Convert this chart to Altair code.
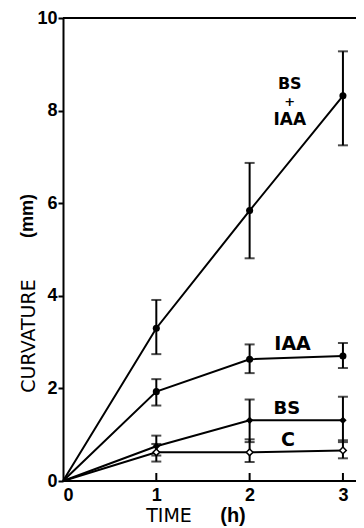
import altair as alt
import pandas as pd

times = [0, 1, 2, 3]
bs_iaa = [0, 3.3, 5.84, 8.32]
bs_iaa_lo = [None, 2.74, 4.81, 7.25]
bs_iaa_hi = [None, 3.91, 6.87, 9.28]
iaa = [0, 1.93, 2.63, 2.7]
iaa_lo = [None, 1.63, 2.33, 2.44]
iaa_hi = [None, 2.2, 2.95, 2.98]
bs = [0, 0.75, 1.31, 1.31]
bs_lo = [None, 0.55, 0.84, 0.84]
bs_hi = [None, 0.98, 1.76, 1.82]
c = [0, 0.62, 0.62, 0.66]
c_lo = [None, 0.42, 0.41, 0.49]
c_hi = [None, 0.8, 0.9, 0.88]
x_ticks = [1, 2, 3]
y_ticks = [0, 2, 4, 6, 8, 10]

rows = []
for name, v, lo, hi in [("BS+IAA", bs_iaa, bs_iaa_lo, bs_iaa_hi),
                        ("IAA", iaa, iaa_lo, iaa_hi),
                        ("BS", bs, bs_lo, bs_hi),
                        ("C", c, c_lo, c_hi)]:
    for t, val, l, h in zip(times, v, lo, hi):
        rows.append({"series": name, "time": t, "value": val, "lo": l, "hi": h})
df = pd.DataFrame(rows)
err = df.dropna()
pts = df[df.time > 0]

W, H = 293, 463
xs = alt.Scale(domain=[0, 3.14], nice=False)
ys = alt.Scale(domain=[0, 10], nice=False)

LABF = "Liberation Sans"
SERF = "DejaVu Sans"

x_enc = alt.X("time:Q", scale=xs, axis=alt.Axis(
    values=[0, 1, 2, 3], format="d", grid=False, domain=False, ticks=False,
    labelFont=LABF, labelFontWeight="bold", labelFontSize=18, labelColor="black",
    labelPadding=5, title=None))
y_enc = alt.Y("value:Q", scale=ys, axis=alt.Axis(
    values=y_ticks, grid=False, domainWidth=2, domainColor="black",
    tickSize=5, tickWidth=2, tickColor="black",
    labelFont=LABF, labelFontWeight="bold", labelFontSize=18, labelColor="black",
    labelPadding=1, title=None))

lines = alt.Chart(df).mark_line(color="black", strokeWidth=2).encode(
    x=x_enc, y=y_enc, detail="series:N")

rules = alt.Chart(err).mark_rule(color="black", strokeWidth=2).encode(
    x=alt.X("time:Q", scale=xs), y=alt.Y("lo:Q", scale=ys), y2="hi:Q")
cap_lo = alt.Chart(err).mark_tick(color="black", thickness=2, size=10, orient="horizontal").encode(
    x=alt.X("time:Q", scale=xs), y=alt.Y("lo:Q", scale=ys))
cap_hi = alt.Chart(err).mark_tick(color="black", thickness=2, size=10, orient="horizontal").encode(
    x=alt.X("time:Q", scale=xs), y=alt.Y("hi:Q", scale=ys))

filled = alt.Chart(pts[pts.series.isin(["BS+IAA", "IAA"])]).mark_point(
    shape="circle", filled=True, color="black", size=50, opacity=1).encode(
    x=alt.X("time:Q", scale=xs), y=alt.Y("value:Q", scale=ys))
bsm = alt.Chart(pts[pts.series == "BS"]).mark_point(
    shape="diamond", filled=True, color="black", size=55, opacity=1).encode(
    x=alt.X("time:Q", scale=xs), y=alt.Y("value:Q", scale=ys))
cm = alt.Chart(pts[pts.series == "C"]).mark_point(
    shape="diamond", filled=True, fill="white", stroke="black", strokeWidth=1.5,
    size=45, opacity=1).encode(
    x=alt.X("time:Q", scale=xs), y=alt.Y("value:Q", scale=ys))

one = pd.DataFrame({"a": [0]})
top = alt.Chart(one).mark_rule(color="black", strokeWidth=2).encode(
    x=alt.value(0), x2=alt.value(W), y=alt.value(0))
bottom = alt.Chart(one).mark_rule(color="black", strokeWidth=2).encode(
    x=alt.value(0), x2=alt.value(W), y=alt.value(H))
xt = alt.Chart(pd.DataFrame({"t": x_ticks})).mark_rule(color="black", strokeWidth=2).encode(
    x=alt.X("t:Q", scale=xs), y=alt.value(H), y2=alt.value(H - 8))

labels = [
    ("BS", 2.43, 8.58, 16), ("+", 2.43, 8.19, 13), ("IAA", 2.43, 7.8, 17),
    ("IAA", 2.46, 2.96, 19), ("BS", 2.40, 1.55, 18), ("C", 2.41, 0.88, 19),
]
lab_layers = [alt.Chart(one).mark_text(text=t, font=SERF, fontWeight="bold", fontSize=fs,
                                       color="black", align="center", baseline="middle").encode(
    x=alt.datum(xv, scale=xs), y=alt.datum(yv, scale=ys)) for t, xv, yv, fs in labels]

# axis titles (mixed weights) as text
t_curv = alt.Chart(one).mark_text(text="CURVATURE", font=SERF, fontWeight="normal", fontSize=19,
                                  color="black", angle=270, align="center", baseline="middle").encode(
    x=alt.value(-34), y=alt.value(318))
t_mm = alt.Chart(one).mark_text(text="(mm)", font=LABF, fontWeight="bold", fontSize=18,
                                color="black", angle=270, align="center", baseline="middle").encode(
    x=alt.value(-35), y=alt.value(198))
t_time = alt.Chart(one).mark_text(text="TIME", font=SERF, fontWeight="normal", fontSize=19,
                                  color="black", align="center", baseline="middle").encode(
    x=alt.value(106), y=alt.value(498))
t_h = alt.Chart(one).mark_text(text="(h)", font=LABF, fontWeight="bold", fontSize=20,
                               color="black", align="center", baseline="middle").encode(
    x=alt.value(170), y=alt.value(498))

chart = alt.layer(lines, rules, cap_lo, cap_hi, filled, bsm, cm, top, bottom, xt,
                  *lab_layers, t_curv, t_mm, t_time, t_h).properties(
    width=W, height=H,
    autosize=alt.AutoSizeParams(type="none"),
    padding={"left": 55, "top": 10, "right": 0, "bottom": 45},
).configure_view(stroke=None)

chart.save("out.html", embed_options={"renderer": "svg", "actions": False})
